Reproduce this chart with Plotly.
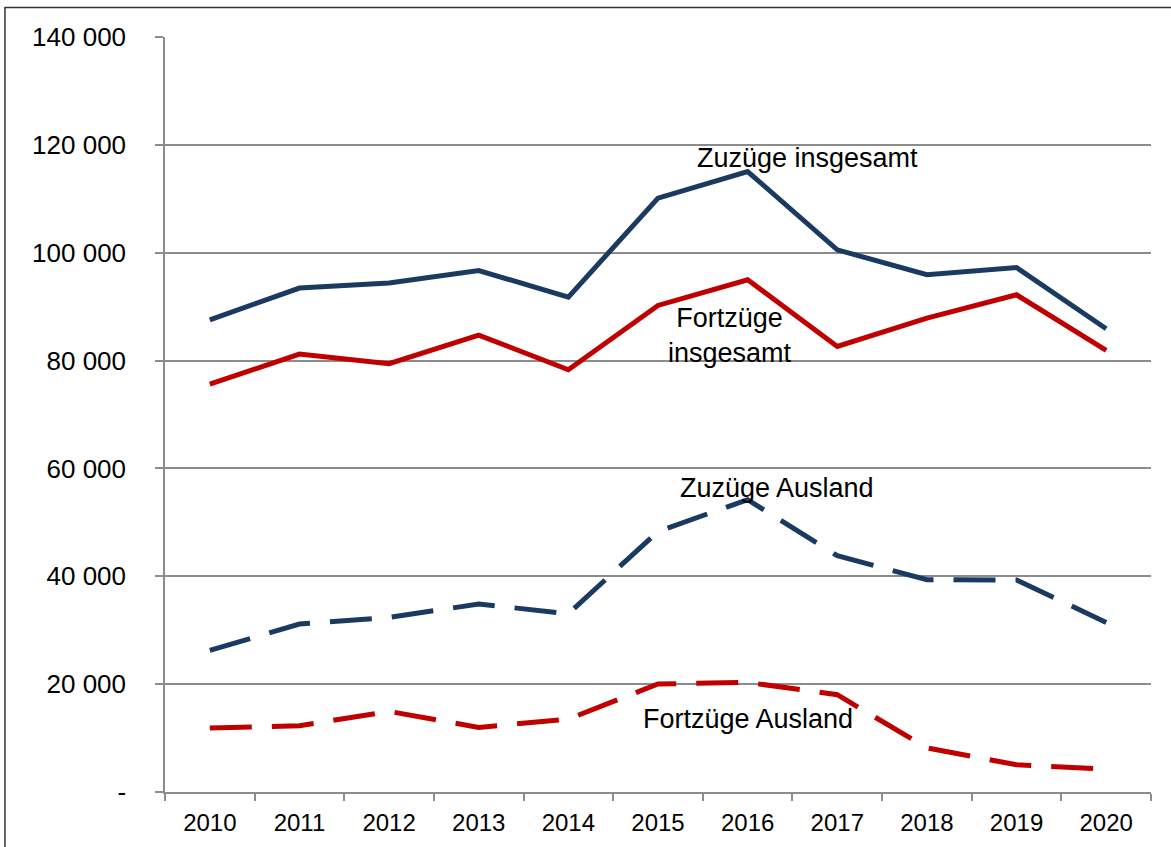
import plotly.graph_objects as go

years = ["2010", "2011", "2012", "2013", "2014", "2015", "2016", "2017", "2018", "2019", "2020"]
zuzuege_insgesamt = [87560, 93440, 94370, 96700, 91770, 110130, 115060, 100540, 95910, 97260, 85890]
fortzuege_insgesamt = [75640, 81210, 79410, 84730, 78290, 90220, 94980, 82620, 87880, 92200, 81880]
zuzuege_ausland = [26250, 31150, 32370, 34860, 33060, 48320, 54200, 43810, 39360, 39300, 31450]
fortzuege_ausland = [11870, 12290, 14950, 11980, 13530, 20020, 20320, 18040, 8160, 5060, 4260]

y_tickvals = [0, 20000, 40000, 60000, 80000, 100000, 120000, 140000]
y_ticktext = ["-", "20 000", "40 000", "60 000", "80 000", "100 000", "120 000", "140 000"]

labels = [
    ("Zuzüge insgesamt", 6.67, 117500),
    ("Fortzüge<br>insgesamt", 5.8, 84700),
    ("Zuzüge Ausland", 6.33, 56400),
    ("Fortzüge Ausland", 6.0, 13500),
]

BLUE = "#1B3A62"
RED = "#C00000"
FONT = "Arial, Liberation Sans, sans-serif"

fig = go.Figure()
fig.add_trace(go.Scatter(x=years, y=zuzuege_insgesamt, mode="lines",
                         line=dict(color=BLUE, width=5), name="Zuzüge insgesamt"))
fig.add_trace(go.Scatter(x=years, y=fortzuege_insgesamt, mode="lines",
                         line=dict(color=RED, width=5), name="Fortzüge insgesamt"))
fig.add_trace(go.Scatter(x=years, y=zuzuege_ausland, mode="lines",
                         line=dict(color=BLUE, width=5, dash="42px,20px"), name="Zuzüge Ausland"))
fig.add_trace(go.Scatter(x=years, y=fortzuege_ausland, mode="lines",
                         line=dict(color=RED, width=5, dash="42px,20px"), name="Fortzüge Ausland"))

for text, x, y in labels:
    fig.add_annotation(x=x, y=y, xref="x", yref="y", text=text, showarrow=False,
                       font=dict(family=FONT, size=27, color="black"),
                       xanchor="center", yanchor="middle")

fig.add_shape(type="rect", xref="paper", yref="paper",
              x0=-0.1623, x1=1.2, y0=-0.3, y1=1.039,
              line=dict(color="#333333", width=1.5), fillcolor="rgba(0,0,0,0)", layer="below")

fig.update_layout(
    width=1171, height=847,
    margin=dict(l=165, r=20, t=37, b=55),
    paper_bgcolor="white", plot_bgcolor="white",
    showlegend=False,
    font=dict(family=FONT, color="black"),
)
fig.update_xaxes(
    type="category", range=[-0.5, 10.5],
    showline=True, linecolor="#8C8C8C", linewidth=1.5,
    ticks="outside", tickson="boundaries", ticklen=7, tickcolor="#8C8C8C", tickwidth=1.5,
    showgrid=False, ticklabelstandoff=8,
    tickfont=dict(family=FONT, size=24, color="black"),
)
fig.update_yaxes(
    range=[0, 140000], tickvals=y_tickvals, ticktext=y_ticktext,
    showline=True, linecolor="#8C8C8C", linewidth=1.5,
    ticks="outside", ticklen=8, tickcolor="#8C8C8C", tickwidth=1.5,
    showgrid=True, gridcolor="#8C8C8C", gridwidth=1.5,
    zeroline=False, ticklabelstandoff=24,
    tickfont=dict(family=FONT, size=26, color="black"),
)

fig.write_html("out.html", config={"displayModeBar": False},
               post_script="document.body.style.margin='0';")
